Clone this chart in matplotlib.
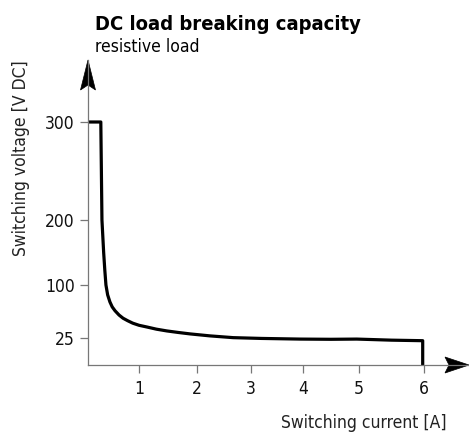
import numpy as np
import matplotlib
matplotlib.use("Agg")
import matplotlib.pyplot as plt
from matplotlib.patches import Polygon

plt.rcParams['font.family'] = ['DejaVu Sans']
plt.rcParams['font.stretch'] = 'condensed'

# Datos de la curva
current = [0.105, 0.33, 0.35, 0.38, 0.40, 0.42, 0.45, 0.49, 0.53, 0.58, 0.65,
           0.72, 0.80, 0.89, 1.0, 1.14, 1.3, 1.48, 1.68, 1.88, 2.24, 2.67,
           3.2, 3.94, 4.5, 4.96, 5.5, 5.98, 5.98]
voltage = [300, 300, 200, 150, 123, 100, 86, 76, 69, 63.5, 57.5,
           53, 49.5, 46, 43, 40.5, 37.5, 35, 32.8, 30.8, 28, 25.5,
           24.6, 24, 23.8, 24, 23, 22.5, 0]

x_ticks = [1, 2, 3, 4, 5, 6]
y_ticks = [25, 100, 200, 300]

# Escalas no lineales del dibujo original (valor -> posicion)
x_vals = [0, 1, 2, 3, 4, 5, 6, 7]
x_pos = [-6, 51, 109, 163, 215, 271, 336, 401]
y_vals = [0, 25, 100, 200, 300, 400]
y_pos = [0, 27, 80, 145, 243, 340]


def fx(v):
    return np.interp(v, x_vals, x_pos)


def fx_inv(p):
    return np.interp(p, x_pos, x_vals)


def fy(v):
    return np.interp(v, y_vals, y_pos)


def fy_inv(p):
    return np.interp(p, y_pos, y_vals)


W, H = 469, 437
fig = plt.figure(figsize=(W / 100, H / 100), dpi=100)
ax = fig.add_axes([88 / W, (H - 365) / H, 381 / W, 305 / H])

ax.set_xscale('function', functions=(fx, fx_inv))
ax.set_yscale('function', functions=(fy, fy_inv))
ax.set_xlim(fx_inv(0), fx_inv(381))
ax.set_ylim(0, fy_inv(305))

ax.plot(current, voltage, color='black', lw=2.3, solid_joinstyle='round',
        solid_capstyle='butt', clip_on=False)

ax.set_xticks(x_ticks)
ax.set_yticks(y_ticks)
ax.set_xticklabels([str(t) for t in x_ticks])
ax.set_yticklabels([str(t) for t in y_ticks])
ax.tick_params(axis='both', length=5.5, width=0.9, color='#777777',
               labelsize=12.5, labelcolor='#111111')
ax.tick_params(axis='x', pad=5)
ax.tick_params(axis='y', pad=4)
ax.minorticks_off()

for s in ['top', 'right']:
    ax.spines[s].set_visible(False)
for s in ['left', 'bottom']:
    ax.spines[s].set_color('#777777')
    ax.spines[s].set_linewidth(0.9)

# Flechas de los ejes
aw, ah = 381.0, 305.0
up = [(0, 1), (-7.5 / aw, 1 - 30 / ah), (0, 1 - 25 / ah), (7.5 / aw, 1 - 30 / ah)]
right = [(1, 0), (1 - 24 / aw, 8 / ah), (1 - 20 / aw, 0), (1 - 24 / aw, -8 / ah)]
for pts in (up, right):
    ax.add_patch(Polygon(pts, closed=True, transform=ax.transAxes,
                         facecolor='black', edgecolor='black', lw=0.5,
                         clip_on=False))

# Textos
fig.text(95 / W, 1 - 30 / H, 'DC load breaking capacity', fontsize=14.5,
         fontweight='bold', ha='left', va='baseline')
fig.text(95 / W, 1 - 52 / H, 'resistive load', fontsize=12.5,
         ha='left', va='baseline')
fig.text(21 / W, 1 - 158 / H, 'Switching voltage [V DC]', fontsize=12.5,
         rotation=90, ha='center', va='center', color='#222222')
fig.text(447 / W, 1 - 428 / H, 'Switching current [A]', fontsize=12.5,
         ha='right', va='baseline', color='#222222')

fig.savefig('out.png', dpi=100)
